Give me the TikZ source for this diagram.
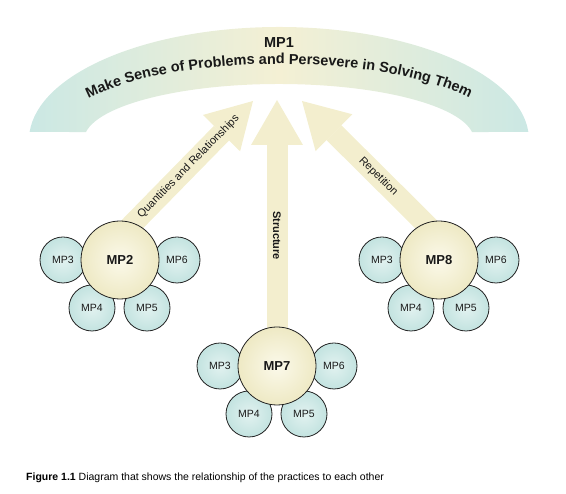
\documentclass[tikz,border=0pt]{standalone}
\usepackage{fontspec}
\setmainfont{Liberation Sans}
\usetikzlibrary{arrows.meta, calc, decorations.text}
\definecolor{bandteal}{RGB}{203,232,228}
\definecolor{bandcream}{RGB}{244,240,212}
\definecolor{arrowcream}{RGB}{243,238,206}
\definecolor{bigin}{RGB}{251,249,234}
\definecolor{bigout}{RGB}{238,233,196}
\definecolor{smallin}{RGB}{226,242,240}
\definecolor{smallout}{RGB}{195,227,224}
\definecolor{rimgray}{RGB}{35,35,35}
\definecolor{inkdark}{RGB}{25,25,25}
\tikzset{
  bigcirc/.style={circle, draw=rimgray, line width=0.8pt, inner color=bigin, outer color=bigout,
    minimum size=78pt, inner sep=0pt, font=\fontsize{13}{15}\selectfont\bfseries, text=inkdark},
  smallcirc/.style={circle, draw=rimgray, line width=0.8pt, inner color=smallin, outer color=smallout,
    minimum size=46pt, inner sep=0pt, font=\fontsize{10.5}{12}\selectfont, text=inkdark},
  bigarrow/.style={draw=arrowcream, line width=21pt, -{Triangle[width=52pt, length=45pt, line width=0pt]}},
  arrowlabel/.style={font=\fontsize{11}{13}\selectfont, text=inkdark, inner sep=0pt}
}

\begin{document}
\begin{tikzpicture}[x=1pt, y=1pt]
  \useasboundingbox (0,0) rectangle (566,494);

  % Band (Top)
  \coordinate (cband) at (279,354);
  \shade[left color=bandteal, right color=bandteal, middle color=bandcream]
    ($(cband)+(4.06:250pt and 113pt)$) arc[start angle=4.06, end angle=175.94, x radius=250pt, y radius=113pt]
    -- ($(cband)+(171.8:195pt and 56pt)$) arc[start angle=171.8, end angle=8.2, x radius=195pt, y radius=56pt] -- cycle;
  \node[font=\fontsize{14.5}{16}\selectfont\bfseries, text=inkdark] (mpone) at (279,451) {MP1};
  \path[decorate, decoration={text along path, text align=center, text color=inkdark,
      text={|\fontsize{14.5}{16}\selectfont\bfseries|Make Sense of Problems and Persevere in Solving Them}}]
    ($(cband)+(170:228pt and 76pt)$) arc[start angle=170, end angle=10, x radius=228pt, y radius=76pt];

  % Centres and tips
  \coordinate (ctwo) at (120,234);
  \coordinate (cseven) at (277,128);
  \coordinate (ceight) at (439,234);
  \coordinate (qtip) at (253,393);
  \coordinate (stip) at (277,394);
  \coordinate (rtip) at (302,393);
  \coordinate (qfoot) at ($(ctwo)+(-7,16)$);
  \coordinate (rfoot) at ($(ceight)+(7,16)$);

  % Arrows - wide, pointing to the band
  \draw[bigarrow] (qfoot) -- (qtip);
  \draw[bigarrow] (cseven) -- (stip);
  \draw[bigarrow] (rfoot) -- (rtip);
  \node[arrowlabel, rotate=45.6] (qlabel) at ($(qfoot)!0.54!(qtip)$) {Quantities and Relationships};
  \node[arrowlabel, rotate=-90, font=\fontsize{11}{13}\selectfont\bfseries] (slabel) at ($(cseven)!0.49!(stip)$) {Structure};
  \node[arrowlabel, rotate=-44.8] (rlabel) at ($(rfoot)!0.47!(rtip)$) {Repetition};

  % Clusters
  \foreach \g/\c/\t in {two/ctwo/MP2, seven/cseven/MP7, eight/ceight/MP8}{
    \node[smallcirc] (\g-three) at ($(\c)+(-57,0)$) {MP3};
    \node[smallcirc] (\g-six) at ($(\c)+(57,0)$) {MP6};
    \node[smallcirc] (\g-four) at ($(\c)+(-28,-48)$) {MP4};
    \node[smallcirc] (\g-five) at ($(\c)+(27,-48)$) {MP5};
    \node[bigcirc] (mp\g) at (\c) {\t};
  }

  % Caption
  \node[anchor=base west, inner sep=0pt, font=\fontsize{10.5}{12}\selectfont] (caption) at (26,13)
    {\textbf{Figure 1.1} Diagram that shows the relationship of the practices to each other};
\end{tikzpicture}
\end{document}
